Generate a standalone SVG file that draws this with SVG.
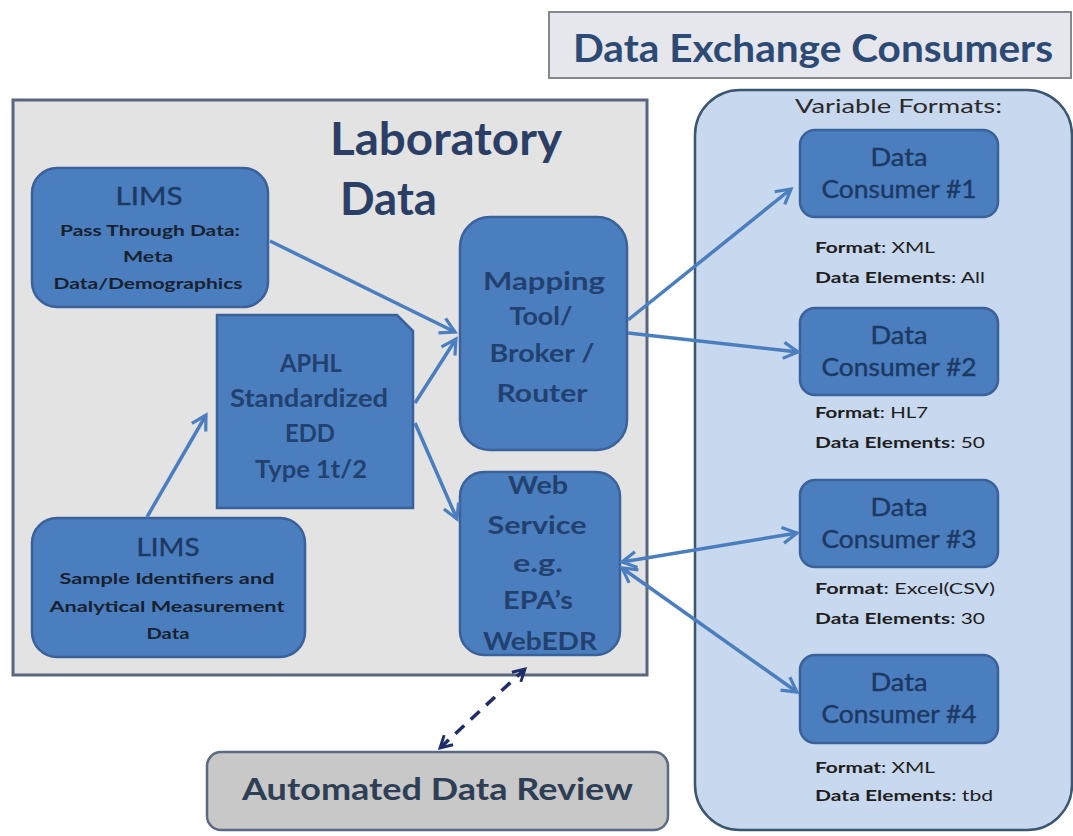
<svg xmlns="http://www.w3.org/2000/svg" width="1073" height="836" viewBox="0 0 1073 836">
<style>
text{font-family:Lato,"Open Sans","Liberation Sans",sans-serif;}
.bx{fill:#4a7ebf;stroke:#3a619a;stroke-width:2.5;}
.st{fill:#18212f;font-weight:bold;text-anchor:middle;font-size:16px;}
.ct{fill:#22416f;font-weight:bold;text-anchor:middle;font-size:25px;}
.cn{fill:#1d3963;text-anchor:middle;font-size:25px;stroke:#1d3963;stroke-width:0.4;}
.fl{fill:#1e1e1e;font-size:16px;}
.ln{stroke:#4a7ebf;stroke-width:3.5;fill:none;marker-end:url(#ah);}
.ln2{stroke:#4a7ebf;stroke-width:3.5;fill:none;marker-end:url(#ah);marker-start:url(#ahs);}
</style>
<defs>
<marker id="ah" viewBox="0 0 12 12" refX="10" refY="6" markerWidth="5.5" markerHeight="5.5" orient="auto" markerUnits="strokeWidth">
<path d="M1,1 L10,6 L1,11" fill="none" stroke="#4a7ebf" stroke-width="2"/>
</marker>
<marker id="ahs" viewBox="0 0 12 12" refX="2" refY="6" markerWidth="5.5" markerHeight="5.5" orient="auto" markerUnits="strokeWidth">
<path d="M11,1 L2,6 L11,11" fill="none" stroke="#4a7ebf" stroke-width="2"/>
</marker>
<marker id="dh" viewBox="0 0 12 12" refX="10" refY="6" markerWidth="4.5" markerHeight="4.5" orient="auto" markerUnits="strokeWidth">
<path d="M1,1 L10,6 L1,11" fill="none" stroke="#1f2d6a" stroke-width="2.2"/>
</marker>
<marker id="dhs" viewBox="0 0 12 12" refX="2" refY="6" markerWidth="4.5" markerHeight="4.5" orient="auto" markerUnits="strokeWidth">
<path d="M11,1 L2,6 L11,11" fill="none" stroke="#1f2d6a" stroke-width="2.2"/>
</marker>
</defs>
<rect width="1073" height="836" fill="#ffffff"/>

<g id="data-exchange-title">
<rect x="549" y="12" width="522" height="66" fill="#e6e7ec" stroke="#85878f" stroke-width="2"/>
<text x="573" y="62" font-size="38" font-weight="bold" fill="#2c4a74" textLength="480" lengthAdjust="spacingAndGlyphs">Data Exchange Consumers</text>
</g>

<g id="laboratory-data">
<rect x="13" y="100" width="634" height="575" fill="#e3e3e3" stroke="#58677e" stroke-width="3"/>
<text x="330" y="155" font-size="46" font-weight="bold" fill="#2b3f66" textLength="232" lengthAdjust="spacingAndGlyphs">Laboratory</text>
<text x="340" y="215" font-size="46" font-weight="bold" fill="#2b3f66" textLength="97" lengthAdjust="spacingAndGlyphs">Data</text>
</g>

<g id="consumers-region">
<rect x="695" y="90" width="377" height="740" rx="45" ry="45" fill="#c8d8ee" stroke="#3d5670" stroke-width="2.5"/>
<text x="795" y="113" font-size="20" fill="#2a2a2a" textLength="207" lengthAdjust="spacingAndGlyphs">Variable Formats:</text>
</g>

<g id="lims-top">
<rect class="bx" x="32" y="168" width="236" height="139" rx="25" ry="25"/>
<text class="cn" x="149" y="205" textLength="67" lengthAdjust="spacingAndGlyphs">LIMS</text>
<text class="st" x="150" y="236" textLength="180" lengthAdjust="spacingAndGlyphs">Pass Through Data:</text>
<text class="st" x="148" y="262" textLength="50" lengthAdjust="spacingAndGlyphs">Meta</text>
<text class="st" x="148" y="289" textLength="189" lengthAdjust="spacingAndGlyphs">Data/Demographics</text>
</g>

<g id="aphl-edd">
<path class="bx" d="M217,315 L397,315 L413,331 L413,508 L217,508 Z"/>
<text class="ct" x="311" y="372" textLength="62" lengthAdjust="spacingAndGlyphs">APHL</text>
<text class="ct" x="309" y="407" textLength="158" lengthAdjust="spacingAndGlyphs">Standardized</text>
<text class="ct" x="310" y="442" textLength="50" lengthAdjust="spacingAndGlyphs">EDD</text>
<text class="ct" x="311" y="478" textLength="112" lengthAdjust="spacingAndGlyphs">Type 1t/2</text>
</g>

<g id="lims-bottom">
<rect class="bx" x="32" y="518" width="273" height="139" rx="25" ry="25"/>
<text class="cn" x="168" y="556" textLength="63" lengthAdjust="spacingAndGlyphs">LIMS</text>
<text class="st" x="167" y="584" textLength="215" lengthAdjust="spacingAndGlyphs">Sample Identifiers and</text>
<text class="st" x="167" y="612" textLength="235" lengthAdjust="spacingAndGlyphs">Analytical Measurement</text>
<text class="st" x="168" y="639" textLength="43" lengthAdjust="spacingAndGlyphs">Data</text>
</g>

<g id="mapping-tool">
<rect class="bx" x="460" y="217" width="167" height="233" rx="30" ry="30"/>
<text class="ct" x="544" y="290" textLength="122" lengthAdjust="spacingAndGlyphs">Mapping</text>
<text class="ct" x="541" y="325" textLength="63" lengthAdjust="spacingAndGlyphs">Tool/</text>
<text class="ct" x="542" y="362" textLength="105" lengthAdjust="spacingAndGlyphs">Broker /</text>
<text class="ct" x="542" y="402" textLength="91" lengthAdjust="spacingAndGlyphs">Router</text>
</g>

<g id="web-service">
<rect class="bx" x="460" y="472" width="160" height="183" rx="24" ry="24"/>
<text class="ct" x="538" y="494" textLength="60" lengthAdjust="spacingAndGlyphs">Web</text>
<text class="ct" x="537" y="534" textLength="99" lengthAdjust="spacingAndGlyphs">Service</text>
<text class="ct" x="538" y="572" textLength="50" lengthAdjust="spacingAndGlyphs">e.g.</text>
<text class="ct" x="538" y="609" textLength="70" lengthAdjust="spacingAndGlyphs">EPA’s</text>
<text class="ct" x="540" y="650" textLength="114" lengthAdjust="spacingAndGlyphs">WebEDR</text>
</g>

<g id="consumer-1">
<rect class="bx" x="800" y="130" width="198" height="87" rx="15" ry="15"/>
<text class="cn" x="899" y="166" textLength="57" lengthAdjust="spacingAndGlyphs">Data</text>
<text class="cn" x="899" y="198" textLength="155" lengthAdjust="spacingAndGlyphs">Consumer #1</text>
<text class="fl" x="815" y="253" textLength="120" lengthAdjust="spacingAndGlyphs"><tspan font-weight="bold">Format</tspan>: XML</text>
<text class="fl" x="815" y="283" textLength="170" lengthAdjust="spacingAndGlyphs"><tspan font-weight="bold">Data Elements</tspan>: All</text>
</g>

<g id="consumer-2">
<rect class="bx" x="800" y="308" width="198" height="87" rx="15" ry="15"/>
<text class="cn" x="899" y="344" textLength="57" lengthAdjust="spacingAndGlyphs">Data</text>
<text class="cn" x="899" y="376" textLength="155" lengthAdjust="spacingAndGlyphs">Consumer #2</text>
<text class="fl" x="815" y="418" textLength="113" lengthAdjust="spacingAndGlyphs"><tspan font-weight="bold">Format</tspan>: HL7</text>
<text class="fl" x="815" y="448" textLength="170" lengthAdjust="spacingAndGlyphs"><tspan font-weight="bold">Data Elements</tspan>: 50</text>
</g>

<g id="consumer-3">
<rect class="bx" x="800" y="480" width="198" height="87" rx="15" ry="15"/>
<text class="cn" x="899" y="516" textLength="57" lengthAdjust="spacingAndGlyphs">Data</text>
<text class="cn" x="899" y="548" textLength="155" lengthAdjust="spacingAndGlyphs">Consumer #3</text>
<text class="fl" x="815" y="594" textLength="180" lengthAdjust="spacingAndGlyphs"><tspan font-weight="bold">Format</tspan>: Excel(CSV)</text>
<text class="fl" x="815" y="624" textLength="170" lengthAdjust="spacingAndGlyphs"><tspan font-weight="bold">Data Elements</tspan>: 30</text>
</g>

<g id="consumer-4">
<rect class="bx" x="800" y="655" width="198" height="88" rx="15" ry="15"/>
<text class="cn" x="899" y="691" textLength="57" lengthAdjust="spacingAndGlyphs">Data</text>
<text class="cn" x="899" y="723" textLength="155" lengthAdjust="spacingAndGlyphs">Consumer #4</text>
<text class="fl" x="815" y="773" textLength="120" lengthAdjust="spacingAndGlyphs"><tspan font-weight="bold">Format</tspan>: XML</text>
<text class="fl" x="815" y="801" textLength="178" lengthAdjust="spacingAndGlyphs"><tspan font-weight="bold">Data Elements</tspan>: tbd</text>
</g>

<g id="automated-review">
<rect x="207" y="752" width="461" height="78" rx="14" ry="14" fill="#c8c8c8" stroke="#5a6a80" stroke-width="2.5"/>
<text x="242" y="800" font-size="31" font-weight="bold" fill="#2e3f55" textLength="391" lengthAdjust="spacingAndGlyphs">Automated Data Review</text>
</g>

<g id="connectors">
<line class="ln" x1="270" y1="241" x2="455" y2="332"/>
<line class="ln" x1="415" y1="403" x2="456" y2="339"/>
<line class="ln" x1="415" y1="423" x2="457" y2="519"/>
<line class="ln" x1="147" y1="517" x2="206" y2="415"/>
<line class="ln" x1="628" y1="320" x2="791" y2="189"/>
<line class="ln" x1="628" y1="333" x2="798" y2="352"/>
<line class="ln2" x1="622" y1="562" x2="797" y2="533"/>
<line class="ln2" x1="622" y1="568" x2="797" y2="692"/>
<line x1="440" y1="748" x2="525" y2="669" stroke="#1f2d6a" stroke-width="3.5" stroke-dasharray="12,9" marker-start="url(#dhs)" marker-end="url(#dh)"/>
</g>
</svg>
